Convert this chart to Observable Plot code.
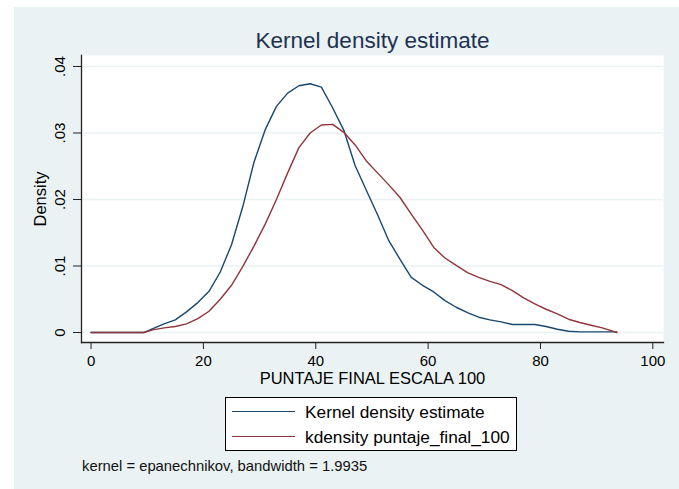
<!DOCTYPE html>
<html>
<head>
<meta charset="utf-8">
<script src="https://cdn.jsdelivr.net/npm/d3@7"></script>
<script src="https://cdn.jsdelivr.net/npm/@observablehq/plot@0.6"></script>
<style>
  body { margin: 0; background: #fff; font-family: "Liberation Sans", Arial, sans-serif; }
  #chart { position: relative; width: 679px; height: 489px; overflow: hidden; }
  #bg { position: absolute; left: 14px; top: 7px; right: 0; bottom: 0; background: #eaf2f3; }
  #plot { position: absolute; left: 0; top: 0; }
  .legend { position: absolute; left: 225px; top: 397px; width: 290px; height: 52px;
            border: 1px solid #000; background: #fff; }
  .legend .row { position: absolute; left: 0; right: 0; height: 24px; }
  .legend .swatch { position: absolute; left: 6px; width: 63px; top: 11px; height: 0; border-top: 1.5px solid; }
  .legend .label { position: absolute; left: 79px; top: 0; line-height: 24px; font-size: 17.3px; color: #000; white-space: nowrap; }
  .note { position: absolute; left: 82px; top: 457px; font-size: 14.8px; line-height: 18px; color: #111; white-space: nowrap; }
</style>
</head>
<body>
<div id="chart">
  <div id="bg"></div>
  <div id="plot"></div>
</div>
<script>
// Evaluation grid (score, 0–100 scale)
const scoreGrid = [0, 5, 9.4, 11, 13, 15, 17, 19, 21, 23, 25, 27, 29, 31, 33, 35, 37, 39, 41, 43,
  45, 47, 49, 51, 53, 55, 57, 59, 61, 63, 65, 67, 69, 71, 73, 75, 77, 79, 81, 83, 85, 87, 89, 91, 93.6];

// Density values of each estimate along the grid
const densityKernel = [0, 0, 0, 0.0006, 0.0013, 0.0019, 0.0031, 0.0045, 0.0062, 0.0091, 0.0132, 0.0189,
  0.0256, 0.0305, 0.0340, 0.0360, 0.0371, 0.0374, 0.0369, 0.0338, 0.0304, 0.0251, 0.0214, 0.0177, 0.0138,
  0.0110, 0.0083, 0.0071, 0.0061, 0.0048, 0.0038, 0.0030, 0.0023, 0.0019, 0.0016, 0.0012, 0.0012, 0.0012,
  0.0009, 0.0005, 0.0002, 0.0001, 0.0001, 0.0001, 0.0001];
const densityPuntaje = [0, 0, 0, 0.0004, 0.0007, 0.0009, 0.0013, 0.0021, 0.0032, 0.0050, 0.0071, 0.0099,
  0.0130, 0.0163, 0.0200, 0.0240, 0.0278, 0.0300, 0.0312, 0.0313, 0.0301, 0.0282, 0.0258, 0.0240, 0.0222,
  0.0203, 0.0178, 0.0154, 0.0128, 0.0112, 0.0101, 0.0090, 0.0083, 0.0077, 0.0072, 0.0063, 0.0052, 0.0043,
  0.0035, 0.0028, 0.0020, 0.0015, 0.0011, 0.0007, 0];

const seriesNames = ["Kernel density estimate", "kdensity puntaje_final_100"];
const seriesColors = ["#1a476f", "#90353b"];

const xTicks = [0, 20, 40, 60, 80, 100];
const yTicks = [0, 0.01, 0.02, 0.03, 0.04];

const titleText = "Kernel density estimate";
const xLabel = "PUNTAJE FINAL ESCALA 100";
const yLabel = "Density";
const noteText = "kernel = epanechnikov, bandwidth = 1.9935";

// Long-format table for the line marks
const rows = [];
[densityKernel, densityPuntaje].forEach((vals, i) => {
  vals.forEach((v, j) => rows.push({series: seriesNames[i], x: scoreGrid[j], y: v}));
});

const yFmt = d => d === 0 ? "0" : d3.format(".2f")(d).replace(/^0/, "");

const chart = Plot.plot({
  width: 679,
  height: 489,
  marginLeft: 81,
  marginRight: 16,
  marginTop: 55,
  marginBottom: 147,
  style: {background: "transparent", fontFamily: "Liberation Sans, Arial, sans-serif", overflow: "visible"},
  x: {domain: [-1.7, 101.9]},
  y: {domain: [-0.0015, 0.04165]},
  color: {domain: seriesNames, range: seriesColors},
  marks: [
    Plot.frame({fill: "#fff", stroke: null}),
    Plot.ruleY(yTicks, {stroke: "#eaf2f3", strokeWidth: 1.5}),
    Plot.line(rows, {x: "x", y: "y", stroke: "series", strokeWidth: 1.4, curve: "linear"}),
    Plot.frame({anchor: "left", stroke: "#222", strokeWidth: 1.3}),
    Plot.frame({anchor: "bottom", stroke: "#222", strokeWidth: 1.3}),
    Plot.axisY(yTicks, {tickSize: 8, tickFormat: () => "", label: null, stroke: "#222"}),
    Plot.text(yTicks, {y: d => d, frameAnchor: "left", dx: -21, rotate: -90, text: yFmt,
      textAnchor: "middle", lineAnchor: "middle", fontSize: 15, fill: "#000"}),
    Plot.axisX(xTicks, {tickSize: 7, tickPadding: 6, fontSize: 15, label: null, stroke: "#222", fill: "#000"}),
    Plot.text([xLabel], {frameAnchor: "bottom", dy: 36, textAnchor: "middle", lineAnchor: "middle",
      fontSize: 16.5, fill: "#000"}),
    Plot.text([yLabel], {frameAnchor: "left", dx: -41, rotate: -90, textAnchor: "middle", lineAnchor: "middle",
      fontSize: 16.5, fill: "#000"}),
    Plot.text([titleText], {frameAnchor: "top", dy: -15, textAnchor: "middle", lineAnchor: "middle",
      fontSize: 22.5, fill: "#1e3250"})
  ]
});
document.getElementById("plot").appendChild(chart);

// Legend box and kernel note below the plot
const legend = document.createElement("div");
legend.className = "legend";
seriesNames.forEach((name, i) => {
  const row = document.createElement("div");
  row.className = "row";
  row.style.top = (2 + i * 25) + "px";
  const sw = document.createElement("span");
  sw.className = "swatch";
  sw.style.borderTopColor = seriesColors[i];
  const lab = document.createElement("span");
  lab.className = "label";
  lab.textContent = name;
  row.appendChild(sw);
  row.appendChild(lab);
  legend.appendChild(row);
});
document.getElementById("chart").appendChild(legend);

const note = document.createElement("div");
note.className = "note";
note.textContent = noteText;
document.getElementById("chart").appendChild(note);
</script>
</body>
</html>
